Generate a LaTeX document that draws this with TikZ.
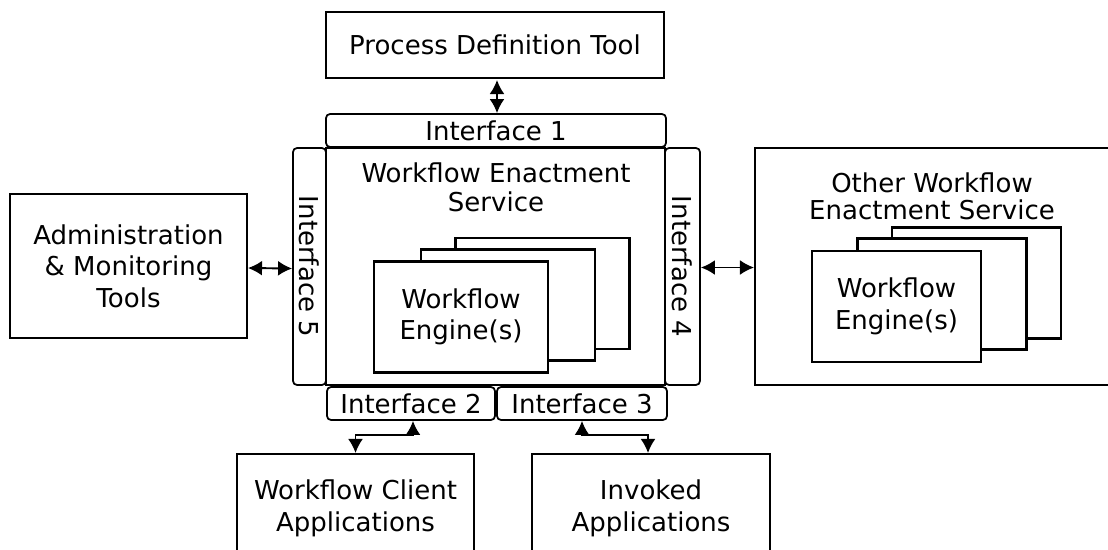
\documentclass[tikz,border=0pt]{standalone}
\usepackage{fontspec}
\setmainfont{DejaVu Sans}
\usetikzlibrary{arrows.meta}
\newlength\px
\setlength\px{0.02cm}

\begin{document}
\begin{tikzpicture}[x=0.02cm,y=-0.02cm,
  every node/.style={font=\fontsize{14.8}{18}\selectfont, align=center, inner sep=0pt},
  box/.style={draw, line width=1.1pt, fill=white},
  iface/.style={draw, line width=1pt, rounded corners=2.3pt, fill=white},
  engine/.style={draw, line width=1.2pt, fill=white,
    minimum width=174*\px, minimum height=111*\px},
  caption/.style={font=\fontsize{14.8}{16.5}\selectfont},
  link/.style={line width=1.1pt, {Latex[length=8pt,width=8.5pt]}-{Latex[length=8pt,width=8.5pt]}}]

\useasboundingbox (0,0) rectangle (1108,549);
\clip (0,0) rectangle (1108,549);

% outside tools and services
\node[box, minimum width=338*\px, minimum height=66*\px] (pdt) at (495,45)
  {Process Definition Tool};
\node[box, minimum width=237*\px, minimum height=144*\px] (adm) at (128.5,266)
  {Administration\\\& Monitoring\\Tools};
\node[box, minimum width=237*\px, minimum height=109*\px] (wca) at (355.5,508.5)
  {Workflow Client\\Applications};
\node[box, minimum width=238*\px, minimum height=109*\px] (inv) at (651,508.5)
  {Invoked\\Applications};

% other enactment service
\node[box, minimum width=395*\px, minimum height=237*\px] (owes) at (952.5,266.5) {};
\node[font=\fontsize{14.8}{15.5}\selectfont] (owestitle) at (932,196) {Other Workflow\\Enactment Service};
\node[engine, minimum width=169*\px] (oe3) at (976.5,283) {};
\node[engine, minimum width=169*\px] (oe2) at (942,294) {};
\node[engine, minimum width=169*\px] (oe1) at (896.5,306.5) {Workflow\\Engine(s)};

% workflow enactment service
\node[box, minimum width=339*\px, minimum height=237*\px] (wes) at (495.5,266.5) {};
\node[caption] (westitle) at (496,187) {Workflow Enactment\\Service};
\node[engine] (we3) at (542.5,293.5) {};
\node[engine] (we2) at (508,305) {};
\node[engine] (we1) at (461,317) {Workflow\\Engine(s)};

% interfaces
\node[iface, minimum width=340*\px, minimum height=33*\px] (if1) at (496,130.5) {Interface 1};
\node[iface, minimum width=168*\px, minimum height=33*\px] (if2) at (411,403.5) {Interface 2};
\node[iface, minimum width=170*\px, minimum height=33*\px] (if3) at (582,403.5) {Interface 3};
\node[iface, rotate=-90, minimum width=237*\px, minimum height=35*\px] (if4) at (682.5,266.5) {Interface 4};
\node[iface, rotate=-90, minimum width=237*\px, minimum height=33*\px] (if5) at (309.5,266.5) {Interface 5};

% connectors
\coordinate (j2) at (413,435);
\coordinate (j3) at (582,435);
\draw[link] ([xshift=2*\px, yshift=-1*\px]pdt.south) -- ([xshift=2*\px]pdt.south |- if1.north);
\draw[link] ([yshift=-2*\px]adm.east) -- ([yshift=-2*\px]if5.south);
\draw[link] ([yshift=-1*\px]if4.north) -- ([yshift=-1*\px]owes.west);
\draw[link] (wca.north) |- (j2) -- (j2 |- if2.south);
\draw[link] ([xshift=-3*\px]inv.north) |- (j3) -- (j3 |- if3.south);
\end{tikzpicture}
\end{document}
